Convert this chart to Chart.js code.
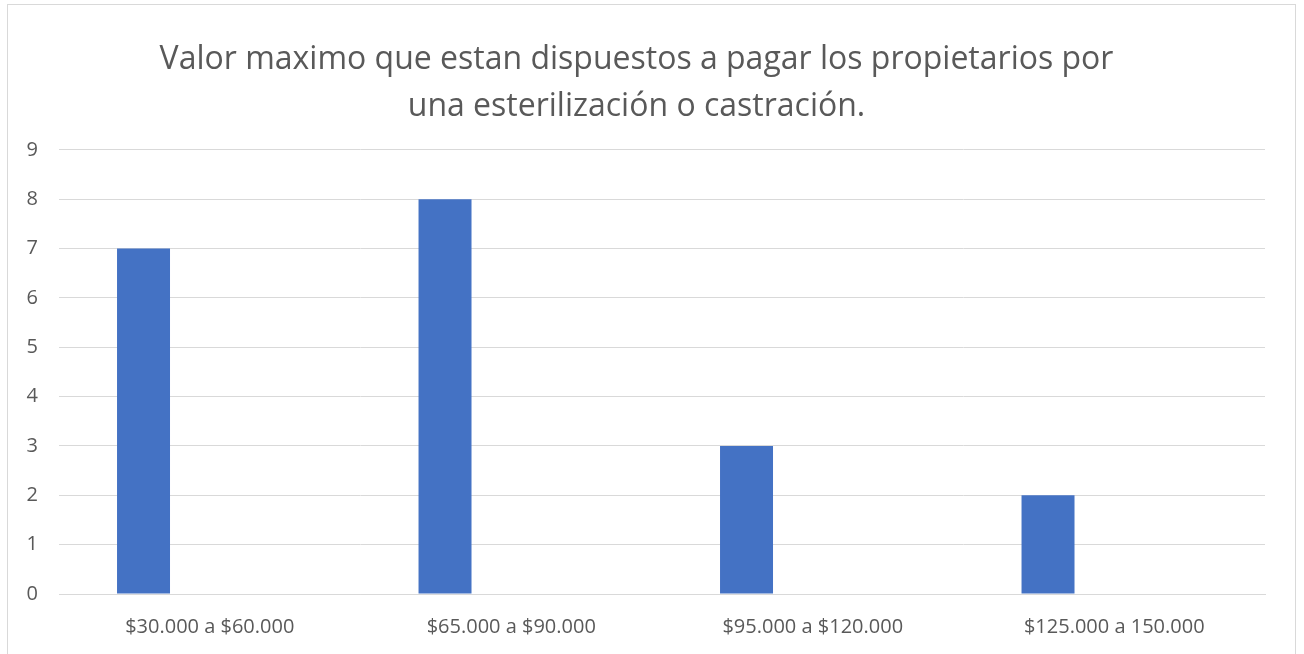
<!DOCTYPE html>
<html>
<head>
<meta charset="utf-8">
<script src="https://cdn.jsdelivr.net/npm/chart.js@4/dist/chart.umd.min.js"></script>
<style>
    body { margin: 0; background: #fff; }
    #frame { position: absolute; left: 7px; top: 4px; width: 1287px; height: 700px; border: 1px solid #d9d9d9; }
    #c { position: absolute; left: 0; top: 0; }
</style>
</head>
<body>
<div id="frame"><canvas id="c" width="1287" height="650"></canvas></div>
<script>
// datos
var categorias = ['$30.000 a $60.000', '$65.000 a $90.000', '$95.000 a $120.000', '$125.000 a 150.000'];
var propietarios = [7, 8, 3, 2];
// series vacias que ocupan su lugar en cada categoria (como en la hoja original)
var serie2 = [null, null, null, null];
var serie3 = [null, null, null, null];
var ticksY = [0, 1, 2, 3, 4, 5, 6, 7, 8, 9];
var titulo = ['Valor maximo que estan dispuestos a pagar los propietarios por', 'una esterilización o castración.'];

var gris = '#595959';
var lineas = '#d9d9d9';
var azul = '#4472c4';
var fuente = "'Open Sans', 'Noto Sans', sans-serif";

var chart = new Chart(document.getElementById('c'), {
    type: 'bar',
    data: {
        labels: categorias,
        datasets: [
            { label: 'Propietarios', data: propietarios, backgroundColor: azul },
            { label: 'Serie 2', data: serie2, backgroundColor: '#ed7d31' },
            { label: 'Serie 3', data: serie3, backgroundColor: '#a5a5a5' }
        ]
    },
    options: {
        responsive: false,
        animation: false,
        layout: { padding: { left: 0, right: 30, top: 0, bottom: 0 } },
        datasets: { bar: { categoryPercentage: 0.659, barPercentage: 0.8 } },
        plugins: {
            legend: { display: false },
            tooltip: { enabled: false },
            title: {
                display: true,
                text: titulo,
                color: gris,
                font: { family: fuente, size: 32, weight: 'normal', lineHeight: 1.45 },
                padding: { top: 32, bottom: 20 }
            }
        },
        scales: {
            x: {
                grid: { display: false, drawTicks: false },
                border: { display: true, color: lineas, width: 1 },
                ticks: { color: gris, font: { family: fuente, size: 20 }, padding: 21, maxRotation: 0 },
                afterFit: function (scale) { scale.height = 61; }
            },
            y: {
                min: 0,
                max: 9,
                afterBuildTicks: function (scale) {
                    scale.ticks = ticksY.map(function (v) { return { value: v }; });
                },
                grid: { color: lineas, lineWidth: 1, drawTicks: false },
                border: { display: false },
                ticks: { color: gris, font: { family: fuente, size: 20 }, padding: 21 },
                afterFit: function (scale) { scale.width = 51; }
            }
        }
    }
});
</script>
</body>
</html>
